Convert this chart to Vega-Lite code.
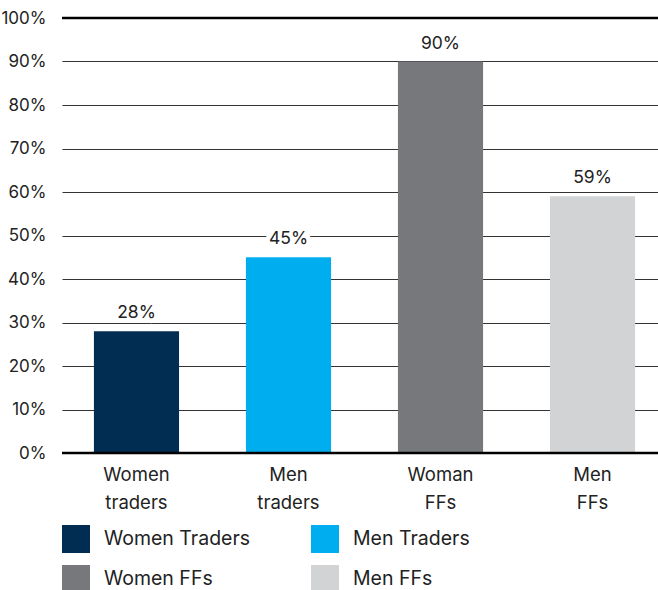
{
  "$schema": "https://vega.github.io/schema/vega-lite/v6.json",
  "width": 605,
  "height": 435,
  "autosize": {"type": "none"},
  "padding": {"left": 62, "top": 18, "right": 0, "bottom": 137},
  "background": "white",
  "config": {
    "font": "Inter",
    "view": {"stroke": null}
  },
  "data": {
    "values": [
      {"group": "Women traders", "series": "Women Traders", "value": 0.28},
      {"group": "Men traders", "series": "Men Traders", "value": 0.45},
      {"group": "Woman FFs", "series": "Women FFs", "value": 0.90},
      {"group": "Men FFs", "series": "Men FFs", "value": 0.59}
    ]
  },
  "encoding": {
    "x": {
      "field": "group",
      "type": "nominal",
      "sort": null,
      "scale": {"paddingInner": 0.44, "paddingOuter": 0.21},
      "axis": {
        "title": null,
        "labelAngle": 0,
        "labelExpr": "split(datum.label, ' ')",
        "labelFontSize": 18.5,
        "labelLineHeight": 28,
        "labelColor": "#222",
        "labelPadding": 12,
        "ticks": false,
        "domain": false,
        "grid": false
      }
    },
    "y": {
      "field": "value",
      "type": "quantitative",
      "scale": {"domain": [0, 1], "nice": false},
      "axis": {
        "title": null,
        "format": ".0%",
        "values": [0, 0.1, 0.2, 0.3, 0.4, 0.5, 0.6, 0.7, 0.8, 0.9, 1],
        "labelOverlap": false,
        "labelFontSize": 17,
        "labelColor": "#222",
        "labelPadding": 16,
        "ticks": false,
        "domain": false,
        "grid": true,
        "gridColor": "#333",
        "gridWidth": 1.2,
        "gridOpacity": 1
      }
    }
  },
  "layer": [
    {
      "mark": {"type": "bar"},
      "encoding": {
        "color": {
          "field": "series",
          "type": "nominal",
          "scale": {
            "domain": ["Women Traders", "Women FFs", "Men Traders", "Men FFs"],
            "range": ["#022D52", "#77787B", "#00AEEF", "#D1D3D4"]
          },
          "legend": {
            "title": null,
            "orient": "none",
            "legendX": 0,
            "legendY": 507,
            "columns": 2,
            "symbolType": "square",
            "symbolSize": 784,
            "symbolStrokeWidth": 0,
            "symbolOpacity": 1,
            "labelFontSize": 19.5,
            "labelColor": "#222",
            "labelOffset": 14,
            "rowPadding": 12,
            "columnPadding": 60,
            "labelLimit": 300
          }
        }
      }
    },
    {
      "mark": {"type": "text", "dy": -18, "fontSize": 17.5, "color": "white", "stroke": "white", "strokeWidth": 10, "strokeJoin": "round"},
      "encoding": {
        "text": {"field": "value", "type": "quantitative", "format": ".0%"}
      }
    },
    {
      "mark": {"type": "text", "dy": -18, "fontSize": 17.5, "color": "#222"},
      "encoding": {
        "text": {"field": "value", "type": "quantitative", "format": ".0%"}
      }
    },
    {
      "data": {"values": [{"value": 0}, {"value": 1}]},
      "mark": {"type": "rule", "color": "#000", "strokeWidth": 2.5},
      "encoding": {
        "x": {"value": 0},
        "x2": {"value": 605}
      }
    }
  ]
}
